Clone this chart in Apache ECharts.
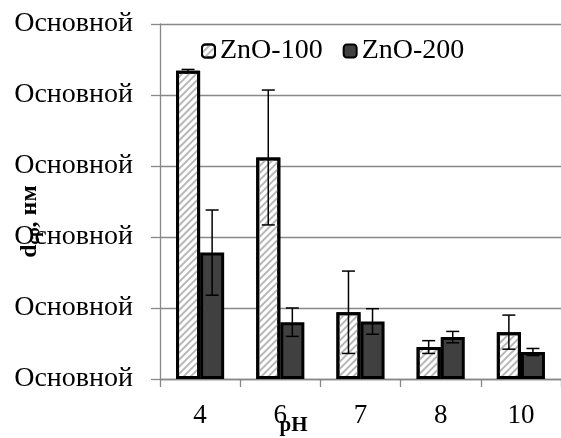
<!DOCTYPE html>
<html>
<head>
<meta charset="utf-8">
<script src="https://cdn.jsdelivr.net/npm/echarts@6/dist/echarts.min.js"></script>
<style>html,body{margin:0;padding:0;background:#fff}#c{width:561px;height:438px}</style>
</head>
<body>
<div id="c"></div>
<script>
const categories = ['4', '6', '7', '8', '10'];
const yTickLabels = ['Основной', 'Основной', 'Основной', 'Основной', 'Основной', 'Основной'];
const zno100 = [434, 312, 94, 45, 66];
const zno100Err = [2, 95, 58, 9, 24];
const zno200 = [178, 80, 81, 59, 38];
const zno200Err = [60, 20, 18, 8, 5];

const FONT = "'Liberation Serif', 'Times New Roman', serif";

function errData(vals, errs) {
  return vals.map((v, i) => [i, v - errs[i], v + errs[i]]);
}
function errSeries(vals, errs, side) {
  return {
    type: 'custom',
    z: 10,
    silent: true,
    data: errData(vals, errs),
    encode: { x: 0, y: [1, 2] },
    renderItem: function (params, api) {
      const i = api.value(0);
      const lo = api.coord([i, api.value(1)]);
      const hi = api.coord([i, api.value(2)]);
      const bw = api.size([1, 0])[0] * 0.3;
      const x = lo[0] + side * bw / 2;
      const cap = 6.5;
      const st = { stroke: '#000', lineWidth: 1.5 };
      return {
        type: 'group',
        children: [
          { type: 'line', shape: { x1: x, y1: lo[1], x2: x, y2: hi[1] }, style: st },
          { type: 'line', shape: { x1: x - cap, y1: lo[1], x2: x + cap, y2: lo[1] }, style: st },
          { type: 'line', shape: { x1: x - cap, y1: hi[1], x2: x + cap, y2: hi[1] }, style: st }
        ]
      };
    }
  };
}

const chart = echarts.init(document.getElementById('c'), null, { renderer: 'canvas' });
chart.setOption({
  animation: false,
  backgroundColor: '#fff',
  textStyle: { fontFamily: FONT },
  grid: { left: 160, right: 0, top: 24, bottom: 59, containLabel: false, outerBoundsMode: 'none' },
  legend: {
    data: ['ZnO-100', 'ZnO-200'],
    left: 196, top: 32,
    itemWidth: 13, itemHeight: 13, itemGap: 20,
    textStyle: { fontFamily: FONT, fontSize: 28, color: '#000' }
  },
  xAxis: {
    type: 'category',
    data: categories,
    name: 'pH',
    nameLocation: 'middle',
    nameGap: 36,
    nameMoveOverlap: false,
    nameTextStyle: { fontFamily: FONT, fontSize: 21, fontWeight: 'bold', color: '#000', padding: [0, 134, 0, 0] },
    axisLine: { lineStyle: { color: '#888', width: 1.3 } },
    axisTick: { show: true, length: 8, lineStyle: { color: '#888', width: 1.3 } },
    axisLabel: { fontFamily: FONT, fontSize: 27, color: '#000', margin: 23 }
  },
  yAxis: {
    type: 'value',
    min: 0, max: 500, interval: 100,
    name: '{d|d}{s|ср}{n|, нм}',
    nameLocation: 'middle',
    nameGap: 117,
    nameRotate: 90,
    nameMoveOverlap: false,
    nameTextStyle: {
      padding: [0, 40, 0, 0],
      rich: {
        d: { fontFamily: FONT, fontSize: 24, fontWeight: 'bold', color: '#000' },
        s: { fontFamily: FONT, fontSize: 17, fontWeight: 'bold', color: '#000', verticalAlign: 'bottom', padding: [9, 0, 0, 0] },
        n: { fontFamily: FONT, fontSize: 24, fontWeight: 'bold', color: '#000' }
      }
    },
    axisLine: { show: true, lineStyle: { color: '#888', width: 1.3 } },
    axisTick: { show: true, length: 9, lineStyle: { color: '#888', width: 1.3 } },
    splitLine: { show: true, lineStyle: { color: '#888', width: 1.3 } },
    axisLabel: {
      fontFamily: FONT, fontSize: 28, color: '#000', margin: 27,
      formatter: function (v) { return yTickLabels[Math.round(v / 100)]; }
    }
  },
  series: [
    {
      name: 'ZnO-100', type: 'bar', data: zno100,
      barGap: '0%', barCategoryGap: '40%',
      itemStyle: {
        color: '#fff', borderColor: '#000', borderWidth: 3,
        decal: { symbol: 'rect', symbolSize: 1, dashArrayX: [1, 0], dashArrayY: [1.5, 2.5], rotation: -Math.PI / 4, color: '#b8b8b8' }
      }
    },
    {
      name: 'ZnO-200', type: 'bar', data: zno200,
      barGap: '0%', barCategoryGap: '40%',
      itemStyle: { color: '#404040', borderColor: '#000', borderWidth: 3 }
    },
    errSeries(zno100, zno100Err, -1),
    errSeries(zno200, zno200Err, 1)
  ]
});
</script>
</body>
</html>
